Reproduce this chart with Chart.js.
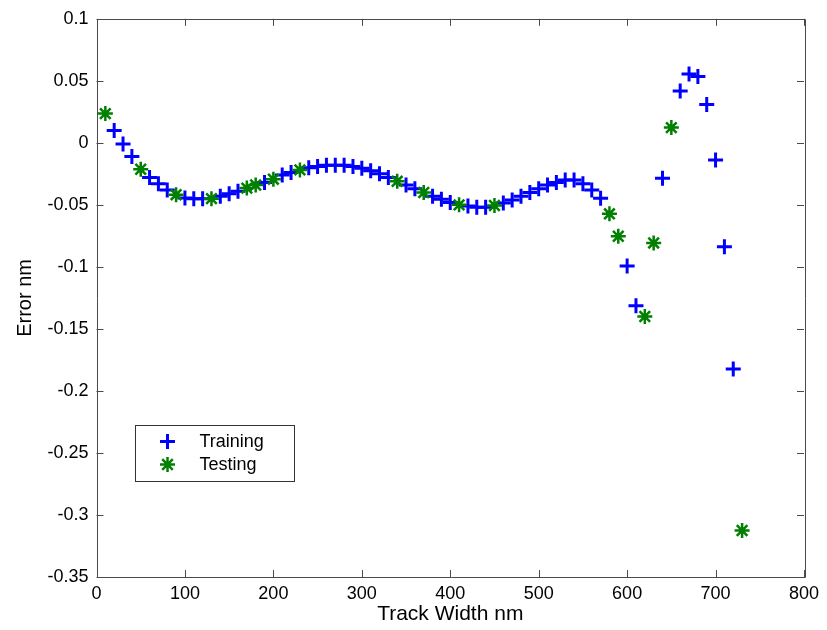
<!DOCTYPE html>
<html>
<head>
<meta charset="utf-8">
<script src="https://cdn.jsdelivr.net/npm/chart.js@4.4.1/dist/chart.umd.min.js"></script>
<style>
  html, body { margin: 0; padding: 0; background: #ffffff; }
  #wrap { width: 827px; height: 630px; }
</style>
</head>
<body>
<div id="wrap"><canvas id="c" width="827" height="630"></canvas></div>
<script>
// ---- data ----
const trainingX = [20,30,40,60,70,80,100,110,120,140,150,160,190,210,220,240,250,260,270,280,290,300,310,320,330,350,360,380,390,400,420,430,440,460,470,480,490,500,510,520,530,540,550,560,570,600,610,640,660,670,680,690,700,710,720];
const trainingY = [0.010,-0.001,-0.011,-0.028,-0.033,-0.038,-0.0445,-0.045,-0.045,-0.043,-0.041,-0.039,-0.032,-0.026,-0.024,-0.020,-0.019,-0.018,-0.018,-0.018,-0.019,-0.0205,-0.0225,-0.025,-0.028,-0.034,-0.037,-0.043,-0.0455,-0.048,-0.051,-0.052,-0.052,-0.0485,-0.046,-0.043,-0.040,-0.037,-0.034,-0.032,-0.030,-0.030,-0.033,-0.038,-0.0446,-0.0993,-0.1313,-0.0285,0.0417,0.0556,0.0535,0.031,-0.0139,-0.0838,-0.1824];
const testingX = [10,50,90,130,170,180,200,230,340,370,410,450,580,590,620,630,650,730];
const testingY = [0.0236,-0.0213,-0.0418,-0.045,-0.0365,-0.034,-0.0293,-0.0218,-0.031,-0.040,-0.050,-0.0505,-0.0572,-0.0753,-0.140,-0.0807,0.0123,-0.3125];
const seriesNames = ['Training', 'Testing'];
const xTickValues = [0,100,200,300,400,500,600,700,800];
const xTickLabels = ['0','100','200','300','400','500','600','700','800'];
const yTickValues = [0.1,0.05,0,-0.05,-0.1,-0.15,-0.2,-0.25,-0.3,-0.35];
const yTickLabels = ['0.1','0.05','0','-0.05','-0.1','-0.15','-0.2','-0.25','-0.3','-0.35'];
const xTitle = 'Track Width nm';
const yTitle = 'Error nm';

const FONT = '"Liberation Sans", Arial, Helvetica, sans-serif';
const AXIS_COLOR = '#4a4a4a';

function toPoints(xs, ys) { return xs.map((x, i) => ({ x: x, y: ys[i] })); }

// inward ticks, full box and legend, MATLAB style
const boxTicks = {
  id: 'boxTicks',
  afterDraw(chart) {
    const ctx = chart.ctx, a = chart.chartArea;
    const xs = chart.scales.x, ys = chart.scales.y;
    const len = 7;
    ctx.save();
    ctx.strokeStyle = AXIS_COLOR;
    ctx.lineWidth = 1;
    ctx.beginPath();
    ctx.rect(Math.round(a.left) + 0.5, Math.round(a.top) + 0.5, Math.round(a.right - a.left), Math.round(a.bottom - a.top));
    xs.ticks.forEach(t => {
      const px = Math.round(xs.getPixelForValue(t.value)) + 0.5;
      ctx.moveTo(px, a.bottom); ctx.lineTo(px, a.bottom - len);
      ctx.moveTo(px, a.top); ctx.lineTo(px, a.top + len);
    });
    ys.ticks.forEach(t => {
      const py = Math.round(ys.getPixelForValue(t.value)) + 0.5;
      ctx.moveTo(a.left, py); ctx.lineTo(a.left + len, py);
      ctx.moveTo(a.right, py); ctx.lineTo(a.right - len, py);
    });
    ctx.stroke();

    const lx = 135.5, ly = 425.5, lw = 159, lh = 56;
    ctx.fillStyle = '#ffffff';
    ctx.fillRect(lx, ly, lw, lh);
    ctx.strokeStyle = '#333333';
    ctx.strokeRect(lx, ly, lw, lh);
    chart.data.datasets.forEach((ds, i) => {
      const cy = ly + 16 + i * 23;
      ctx.strokeStyle = ds.borderColor;
      ctx.fillStyle = ds.backgroundColor;
      ctx.lineWidth = ds.borderWidth;
      Chart.helpers.drawPoint(ctx, {
        pointStyle: ds.pointStyle, radius: ds.pointRadius, rotation: 0,
        borderWidth: ds.borderWidth
      }, lx + 32, cy);
      ctx.fillStyle = '#000000';
      ctx.font = '18px ' + FONT;
      ctx.textBaseline = 'middle';
      ctx.textAlign = 'left';
      ctx.fillText(ds.label, lx + 64, cy + 1);
    });
    ctx.restore();
  }
};

new Chart(document.getElementById('c'), {
  type: 'scatter',
  data: {
    datasets: [
      {
        label: seriesNames[0],
        data: toPoints(trainingX, trainingY),
        pointStyle: 'cross',
        pointRadius: 7.5,
        pointHoverRadius: 7.5,
        borderWidth: 3,
        borderColor: '#0000ff',
        backgroundColor: '#0000ff',
        order: 2
      },
      {
        label: seriesNames[1],
        data: toPoints(testingX, testingY),
        pointStyle: 'star',
        pointRadius: 7.5,
        pointHoverRadius: 7.5,
        borderWidth: 2.5,
        borderColor: '#008000',
        backgroundColor: '#008000',
        order: 1
      }
    ]
  },
  options: {
    responsive: false,
    animation: false,
    events: [],
    layout: { padding: { left: 0, right: 23, top: 14, bottom: 0 } },
    plugins: {
      legend: { display: false },
      tooltip: { enabled: false }
    },
    scales: {
      x: {
        type: 'linear',
        min: 0, max: 800,
        afterBuildTicks: s => { s.ticks = xTickValues.map(v => ({ value: v })); },
        afterFit: s => { s.height = 53; },
        grid: { display: false, drawTicks: false },
        border: { display: false },
        ticks: {
          padding: 6,
          color: '#000000',
          font: { family: FONT, size: 18 },
          maxRotation: 0,
          callback: (v, i) => xTickLabels[i]
        },
        title: {
          display: true, text: xTitle, color: '#000000',
          font: { family: FONT, size: 21 }, padding: { top: 0, bottom: 3 }
        }
      },
      y: {
        type: 'linear',
        min: -0.35, max: 0.1,
        afterBuildTicks: s => { s.ticks = yTickValues.map(v => ({ value: v })); },
        afterFit: s => { s.width = 96.5; },
        grid: { display: false, drawTicks: false },
        border: { display: false },
        ticks: {
          padding: 8,
          color: '#000000',
          font: { family: FONT, size: 18 },
          callback: (v, i) => yTickLabels[i]
        },
        title: {
          display: true, text: yTitle, color: '#000000',
          font: { family: FONT, size: 20 }, padding: { top: 13, bottom: 0 }
        }
      }
    }
  },
  plugins: [boxTicks]
});
</script>
</body>
</html>
